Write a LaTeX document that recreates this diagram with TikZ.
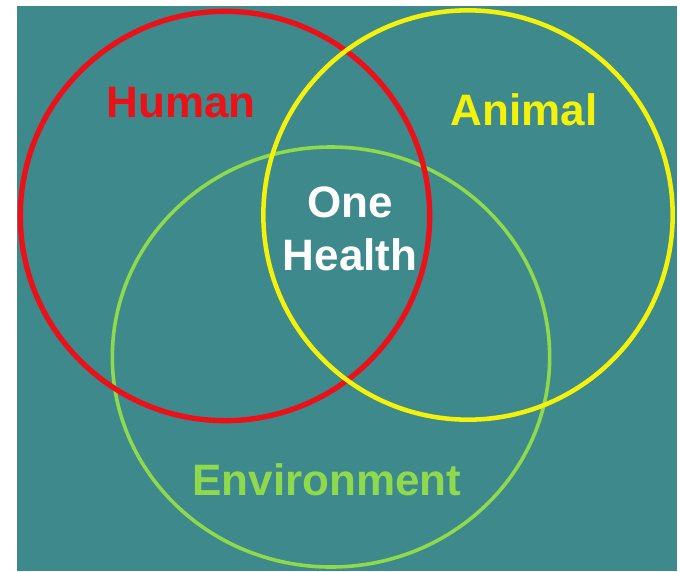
\documentclass[tikz,border=0pt]{standalone}
\usepackage{fontspec}
\setmainfont{Liberation Sans}
\usepackage{tikz}

\definecolor{seateal}{HTML}{3E898C}
\definecolor{humanred}{HTML}{EC1118}
\definecolor{animalyellow}{HTML}{F4F20A}
\definecolor{envgreen}{HTML}{8ED94C}

\begin{document}
\begin{tikzpicture}[x=0.75pt, y=-0.75pt,
  ring/.style={line width=#1},
  label/.style={font=\fontsize{33}{40}\bfseries\selectfont, anchor=base, inner sep=0pt}]
\useasboundingbox (0,0) rectangle (680,571);
\fill[white] (0,0) rectangle (680,571);
\fill[seateal] (17,6) rectangle (677,571);
\coordinate (envc) at (331,357);
\coordinate (humc) at (225,216);
\coordinate (anic) at (468,215);
\draw[ring=2.7pt, envgreen] (envc) ellipse[x radius=164pt, y radius=157.5pt];
\draw[ring=4pt, humanred] (humc) circle[radius=153.5pt];
\draw[ring=3.4pt, animalyellow] (anic) circle[radius=153.5pt];
\node[label, humanred] (human) at (181,117) {Human};
\node[label, animalyellow] (animal) at (524,125) {Animal};
\node[label, white] (one) at (350,217) {One};
\node[label, white] (health) at (350,270) {Health};
\node[label, envgreen] (environment) at (327,495) {Environment};
\end{tikzpicture}
\end{document}
